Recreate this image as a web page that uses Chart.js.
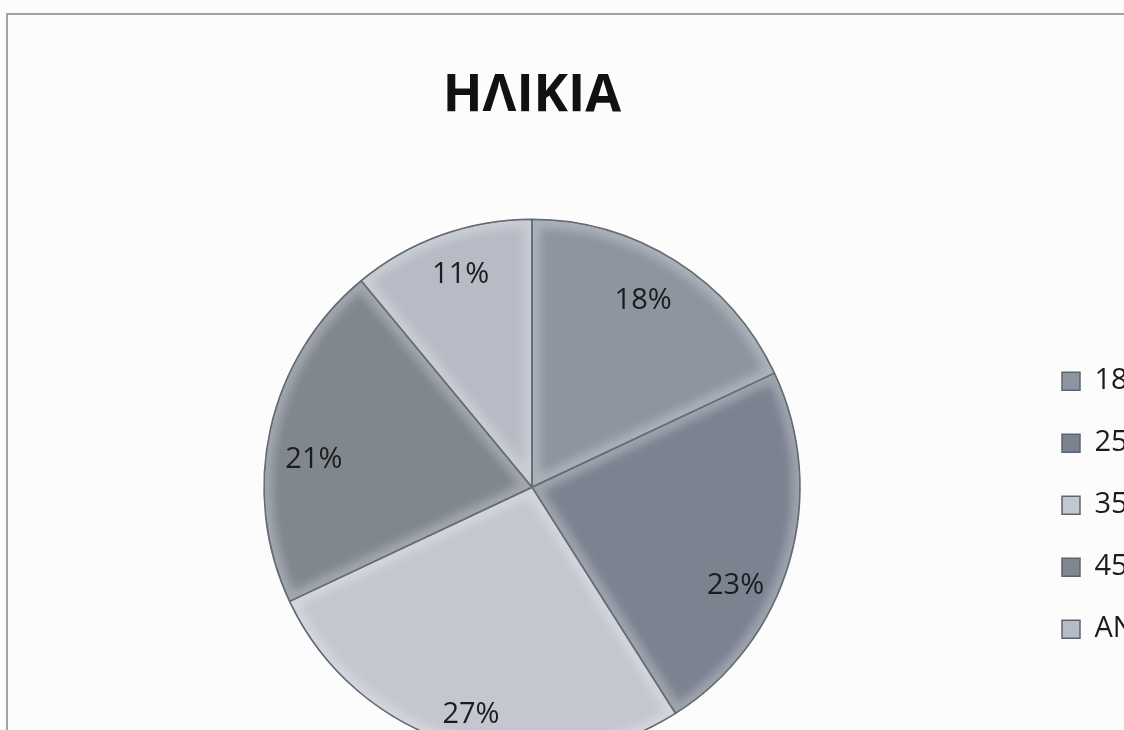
<!DOCTYPE html>
<html>
<head>
<meta charset="utf-8">
<script src="https://cdn.jsdelivr.net/npm/chart.js@4/dist/chart.umd.min.js"></script>
<style>
  html, body { margin: 0; padding: 0; overflow: hidden; background: #fcfcfc; }
  #frame {
    position: absolute; left: 6px; top: 13px; width: 1300px; height: 800px;
    border-top: 2px solid #a3a3a3; border-left: 2px solid #a3a3a3;
  }
  #wrap { position: absolute; left: 0; top: 0; }
</style>
</head>
<body>
<div id="frame"></div>
<div id="wrap"><canvas id="pie" width="1276" height="780"></canvas></div>
<script>
// age groups and their share (%)
const ageGroups = ['18-24', '25-34', '35-44', '45-54', 'ΑΝΩ ΤΩΝ 55'];
const shares = [18, 23, 27, 21, 11];
const sliceColors = ['#8d95a0', '#7b8290', '#c3c7d0', '#80878f', '#b6bbc5'];

const FONT = "'Open Sans', 'Noto Sans', sans-serif";

// small pixel nudges so the labels sit like the Excel "best fit" placement
const labelNudge = [[-8, 1], [-10, 36], [1, 14], [-1, 21], [4, -3]];

function slicePath(ctx, p) {
    ctx.beginPath();
    ctx.moveTo(p.x, p.y);
    ctx.arc(p.x, p.y, p.outerRadius, p.startAngle, p.endAngle);
    ctx.closePath();
}

// soft inner glow along every slice edge, a cheap bevel look
const bevel = {
    id: 'bevel',
    afterDatasetsDraw(chart) {
        const ctx = chart.ctx;
        chart.getDatasetMeta(0).data.forEach((arc) => {
            const p = arc.getProps(['x', 'y', 'startAngle', 'endAngle', 'outerRadius'], true);
            ctx.save();
            slicePath(ctx, p);
            ctx.clip();
            ctx.filter = 'blur(5px)';
            ctx.lineWidth = 16;
            ctx.strokeStyle = 'rgba(255,255,255,0.28)';
            slicePath(ctx, p);
            ctx.stroke();
            ctx.filter = 'none';
            ctx.lineWidth = 1.5;
            ctx.strokeStyle = '#5d646d';
            slicePath(ctx, p);
            ctx.stroke();
            ctx.restore();
        });
    }
};

// percent labels inside each slice, near the rim
const sliceLabels = {
    id: 'sliceLabels',
    afterDatasetsDraw(chart) {
        const ctx = chart.ctx;
        const meta = chart.getDatasetMeta(0);
        ctx.save();
        ctx.font = '29px ' + FONT;
        ctx.fillStyle = '#1c1c1c';
        ctx.textAlign = 'center';
        ctx.textBaseline = 'middle';
        meta.data.forEach((arc, i) => {
            const p = arc.getProps(['x', 'y', 'startAngle', 'endAngle', 'outerRadius'], true);
            const mid = (p.startAngle + p.endAngle) / 2;
            const r = p.outerRadius * 0.83;
            ctx.fillText(shares[i] + '%',
                p.x + Math.cos(mid) * r + labelNudge[i][0],
                p.y + Math.sin(mid) * r + labelNudge[i][1]);
        });
        ctx.restore();
    }
};

new Chart(document.getElementById('pie').getContext('2d'), {
    type: 'pie',
    data: {
        labels: ageGroups,
        datasets: [{
            data: shares,
            backgroundColor: sliceColors,
            borderColor: '#5d646d',
            borderWidth: 1.5,
            radius: 268
        }]
    },
    options: {
        responsive: false,
        animation: false,
        layout: { padding: { left: 35, right: 0, top: 0, bottom: 23 } },
        plugins: {
            title: {
                display: true,
                text: 'ΗΛΙΚΙΑ',
                fullSize: false,
                color: '#111',
                font: { family: FONT, size: 52, weight: 'bold' },
                padding: { top: 65, bottom: 90 }
            },
            legend: {
                position: 'right',
                fullSize: false,
                title: { display: true, text: '', font: { size: 20 }, padding: 6 },
                labels: {
                    color: '#1c1c1c',
                    font: { family: FONT, size: 29 },
                    boxWidth: 18,
                    boxHeight: 18,
                    padding: 33
                }
            },
            tooltip: { enabled: false }
        }
    },
    plugins: [bevel, sliceLabels]
});
</script>
</body>
</html>
